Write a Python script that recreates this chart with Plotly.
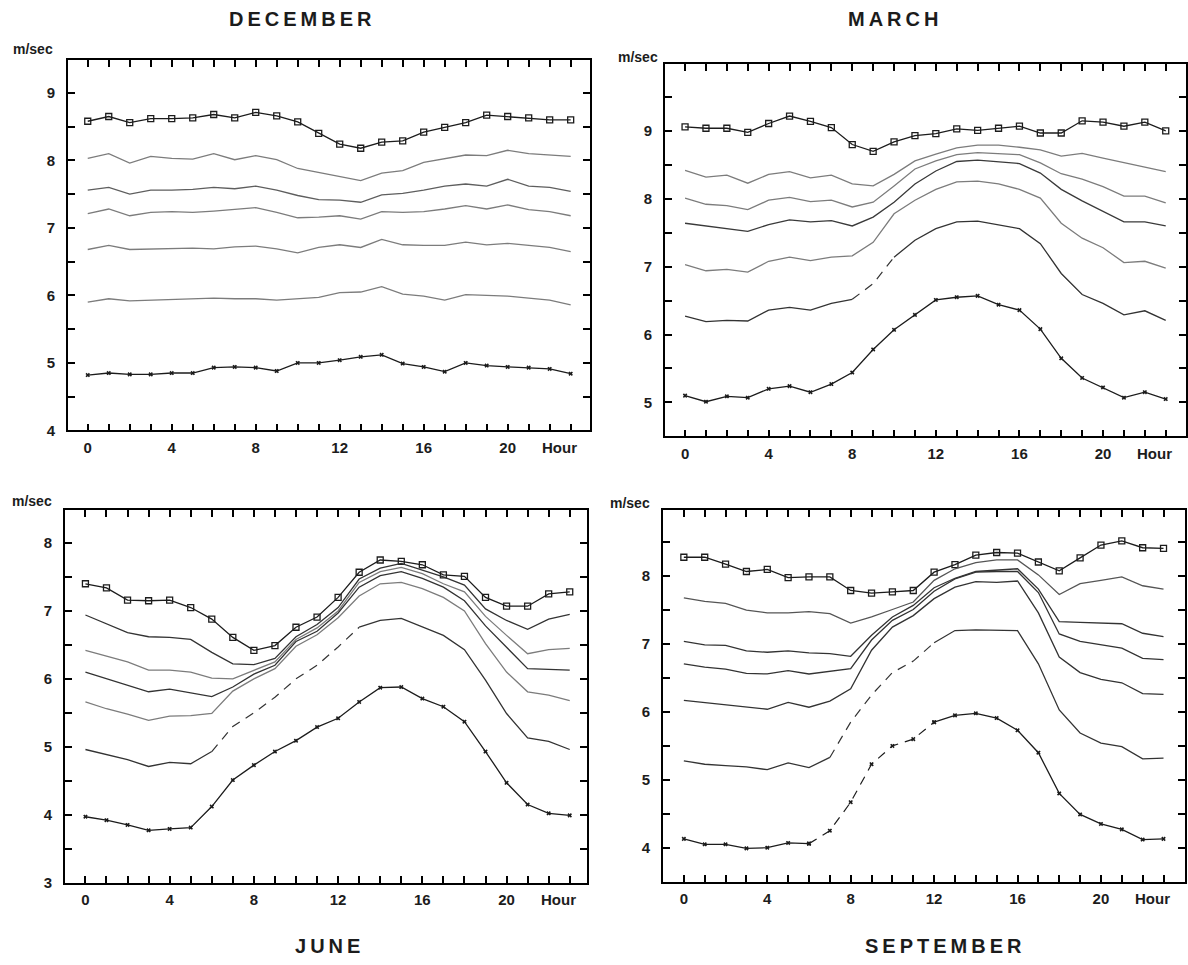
import plotly.graph_objects as go

# Hourly mean wind speed (m/sec) at seven levels, for four months
HOURS = list(range(24))
HOUR_LABELS = [0, 4, 8, 12, 16, 20]

DEC_TOP = [8.58, 8.65, 8.56, 8.62, 8.62, 8.63, 8.68, 8.63, 8.71, 8.66, 8.57, 8.40,
           8.24, 8.18, 8.27, 8.29, 8.42, 8.49, 8.56, 8.67, 8.65, 8.63, 8.60, 8.60]
DEC_L1 = [8.03, 8.10, 7.96, 8.06, 8.03, 8.02, 8.10, 8.01, 8.07, 8.01, 7.88, 7.82,
          7.77, 7.70, 7.81, 7.85, 7.97, 8.03, 8.08, 8.07, 8.15, 8.10, 8.08, 8.06]
DEC_L2 = [7.56, 7.60, 7.50, 7.56, 7.56, 7.57, 7.60, 7.58, 7.62, 7.56, 7.48, 7.42,
          7.41, 7.38, 7.49, 7.51, 7.56, 7.62, 7.65, 7.62, 7.72, 7.62, 7.60, 7.54]
DEC_L3 = [7.21, 7.28, 7.18, 7.23, 7.24, 7.23, 7.25, 7.28, 7.30, 7.23, 7.15, 7.16,
          7.18, 7.13, 7.24, 7.23, 7.24, 7.28, 7.33, 7.28, 7.34, 7.27, 7.24, 7.18]
DEC_L4 = [6.68, 6.74, 6.68, 6.69, 6.69, 6.70, 6.69, 6.72, 6.73, 6.69, 6.63, 6.71,
          6.75, 6.71, 6.83, 6.75, 6.74, 6.74, 6.79, 6.75, 6.77, 6.74, 6.71, 6.65]
DEC_L5 = [5.90, 5.95, 5.92, 5.93, 5.93, 5.95, 5.96, 5.95, 5.95, 5.93, 5.95, 5.97,
          6.04, 6.05, 6.13, 6.02, 5.99, 5.93, 6.01, 6.00, 5.99, 5.96, 5.93, 5.86]
DEC_BOT = [4.82, 4.85, 4.83, 4.83, 4.85, 4.85, 4.93, 4.94, 4.93, 4.88, 5.00, 5.00,
           5.04, 5.09, 5.12, 4.99, 4.94, 4.87, 5.00, 4.96, 4.94, 4.93, 4.91, 4.84]

MAR_TOP = [9.06, 9.04, 9.04, 8.98, 9.11, 9.22, 9.14, 9.05, 8.80, 8.70, 8.84, 8.93,
           8.96, 9.03, 9.01, 9.04, 9.07, 8.97, 8.97, 9.15, 9.13, 9.07, 9.13, 9.00]
MAR_L1 = [8.42, 8.32, 8.35, 8.23, 8.36, 8.40, 8.31, 8.35, 8.22, 8.19, 8.36, 8.56,
          8.66, 8.75, 8.79, 8.79, 8.76, 8.72, 8.63, 8.67, 8.60, 8.53, 8.46, 8.40]
MAR_L2 = [8.01, 7.92, 7.90, 7.84, 7.98, 8.02, 7.96, 7.98, 7.88, 7.95, 8.19, 8.44,
          8.56, 8.65, 8.68, 8.67, 8.65, 8.53, 8.37, 8.29, 8.18, 8.04, 8.04, 7.94]
MAR_L3 = [7.64, 7.60, 7.56, 7.52, 7.62, 7.69, 7.66, 7.68, 7.60, 7.73, 7.95, 8.22,
          8.41, 8.55, 8.57, 8.54, 8.52, 8.38, 8.14, 7.97, 7.81, 7.66, 7.66, 7.60]
MAR_L4 = [7.03, 6.94, 6.96, 6.92, 7.08, 7.14, 7.09, 7.14, 7.16, 7.36, 7.78, 7.98,
          8.14, 8.25, 8.26, 8.22, 8.14, 8.01, 7.64, 7.42, 7.28, 7.06, 7.08, 6.98]
MAR_L5 = [6.27, 6.19, 6.21, 6.20, 6.36, 6.40, 6.36, 6.46, 6.52, 6.75, 7.14, 7.39,
          7.56, 7.66, 7.67, 7.61, 7.56, 7.34, 6.90, 6.59, 6.46, 6.29, 6.35, 6.21]
MAR_BOT = [5.10, 5.01, 5.09, 5.07, 5.20, 5.24, 5.15, 5.27, 5.44, 5.78, 6.07, 6.29,
           6.51, 6.55, 6.57, 6.44, 6.36, 6.08, 5.65, 5.36, 5.22, 5.07, 5.15, 5.05]

JUN_TOP = [7.40, 7.34, 7.16, 7.15, 7.16, 7.05, 6.88, 6.61, 6.42, 6.49, 6.76, 6.91,
           7.20, 7.57, 7.75, 7.73, 7.68, 7.53, 7.51, 7.20, 7.07, 7.07, 7.25, 7.28]
JUN_L1 = [6.94, 6.81, 6.68, 6.62, 6.61, 6.58, 6.39, 6.22, 6.21, 6.30, 6.62, 6.80,
          7.05, 7.47, 7.63, 7.70, 7.60, 7.50, 7.38, 7.03, 6.86, 6.73, 6.88, 6.95]
JUN_L2 = [6.42, 6.34, 6.25, 6.13, 6.13, 6.10, 6.01, 6.00, 6.13, 6.25, 6.58, 6.75,
          7.00, 7.42, 7.58, 7.64, 7.55, 7.40, 7.28, 6.92, 6.64, 6.37, 6.43, 6.45]
JUN_L3 = [6.10, 6.00, 5.90, 5.81, 5.85, 5.80, 5.74, 5.88, 6.07, 6.20, 6.55, 6.70,
          6.97, 7.35, 7.52, 7.58, 7.48, 7.35, 7.15, 6.78, 6.47, 6.15, 6.14, 6.13]
JUN_L4 = [5.66, 5.56, 5.48, 5.39, 5.45, 5.46, 5.49, 5.82, 6.00, 6.15, 6.48, 6.65,
          6.90, 7.22, 7.40, 7.42, 7.33, 7.20, 7.00, 6.52, 6.10, 5.81, 5.76, 5.68]
JUN_L5 = [4.96, 4.88, 4.81, 4.71, 4.77, 4.75, 4.93, 5.30, 5.50, 5.73, 6.00, 6.20,
          6.47, 6.76, 6.86, 6.89, 6.77, 6.64, 6.43, 5.98, 5.49, 5.13, 5.08, 4.96]
JUN_BOT = [3.97, 3.92, 3.85, 3.77, 3.79, 3.81, 4.12, 4.51, 4.73, 4.93, 5.09, 5.29,
           5.42, 5.66, 5.87, 5.88, 5.71, 5.59, 5.37, 4.93, 4.47, 4.15, 4.02, 3.99]

SEP_TOP = [8.28, 8.28, 8.18, 8.07, 8.10, 7.98, 7.99, 7.99, 7.79, 7.75, 7.77, 7.79,
           8.06, 8.17, 8.31, 8.35, 8.34, 8.21, 8.08, 8.27, 8.46, 8.52, 8.42, 8.41]
SEP_L1 = [7.68, 7.63, 7.60, 7.50, 7.46, 7.46, 7.48, 7.45, 7.31, 7.40, 7.51, 7.62,
          7.94, 8.11, 8.20, 8.24, 8.24, 8.02, 7.73, 7.89, 7.94, 7.99, 7.86, 7.81]
SEP_L2 = [7.04, 6.99, 6.98, 6.90, 6.88, 6.90, 6.87, 6.86, 6.82, 7.13, 7.40, 7.57,
          7.83, 7.97, 8.07, 8.09, 8.11, 7.81, 7.33, 7.32, 7.31, 7.30, 7.16, 7.11]
SEP_L3 = [6.71, 6.66, 6.63, 6.57, 6.56, 6.61, 6.56, 6.60, 6.64, 7.06, 7.35, 7.51,
          7.78, 7.96, 8.06, 8.07, 8.07, 7.76, 7.15, 7.04, 6.99, 6.94, 6.79, 6.77]
SEP_L4 = [6.17, 6.14, 6.11, 6.07, 6.04, 6.14, 6.07, 6.16, 6.34, 6.91, 7.25, 7.42,
          7.67, 7.84, 7.92, 7.91, 7.93, 7.46, 6.81, 6.58, 6.48, 6.43, 6.27, 6.26]
SEP_L5 = [5.28, 5.23, 5.21, 5.19, 5.15, 5.25, 5.18, 5.33, 5.85, 6.25, 6.58, 6.75,
          7.02, 7.20, 7.21, 7.20, 7.20, 6.71, 6.03, 5.69, 5.54, 5.49, 5.31, 5.32]
SEP_BOT = [4.13, 4.05, 4.05, 3.99, 4.00, 4.07, 4.06, 4.25, 4.67, 5.23, 5.50, 5.60,
           5.85, 5.95, 5.98, 5.91, 5.73, 5.40, 4.80, 4.49, 4.35, 4.27, 4.12, 4.13]

W, H = 1188, 965
INK = "#1c1c1c"
GREY = "#7c7c7c"
FONT = "Liberation Sans"


def fx(p):
    return p / W


def fy(p):
    return 1 - p / H


# Panel geometry (pixel boxes), axis ranges and line shades
PANELS = [
    dict(title="DECEMBER", title_at=(300, 19), unit_at=(33, 49),
         series=[DEC_TOP, DEC_L1, DEC_L2, DEC_L3, DEC_L4, DEC_L5, DEC_BOT],
         box=(68, 61, 590, 434), xr=(-0.94, 23.92), yr=(4.0, 9.48),
         ylab=(4, 9),
         shades=[GREY, "#5e5e5e", GREY, GREY, GREY], faded={}),
    dict(title="MARCH", title_at=(893, 19), unit_at=(638, 57),
         series=[MAR_TOP, MAR_L1, MAR_L2, MAR_L3, MAR_L4, MAR_L5, MAR_BOT],
         box=(665, 65, 1186, 440), xr=(-0.96, 23.97), yr=(4.5, 9.98),
         ylab=(5, 9),
         shades=[GREY, GREY, "#3a3a3a", GREY, "#333333"], faded={5: (8, 10)}),
    dict(title="JUNE", title_at=(327, 954), unit_at=(32, 505),
         series=[JUN_TOP, JUN_L1, JUN_L2, JUN_L3, JUN_L4, JUN_L5, JUN_BOT],
         box=(65, 514, 587, 890), xr=(-0.97, 23.82), yr=(3.0, 8.49),
         ylab=(3, 8),
         shades=["#333333", GREY, "#333333", GREY, "#333333"], faded={5: (6, 13)}),
    dict(title="SEPTEMBER", title_at=(943, 954), unit_at=(630, 507),
         series=[SEP_TOP, SEP_L1, SEP_L2, SEP_L3, SEP_L4, SEP_L5, SEP_BOT],
         box=(663, 514, 1185, 889), xr=(-1.0, 24.03), yr=(3.5, 8.98),
         ylab=(4, 8),
         shades=["#555555", "#333333", "#333333", "#333333", "#333333"],
         faded={5: (7, 12), 6: (6, 12)}),
]

fig = go.Figure()
annotations = []
layout_axes = {}

tick_font = dict(family=FONT, size=15, color=INK, weight="bold")

for i, p in enumerate(PANELS):
    n = "" if i == 0 else str(i + 1)
    xa, ya = "x" + n, "y" + n
    x0, y0, x1, y1 = p["box"]

    for k, vals in enumerate(p["series"]):
        if k == 0:
            style = dict(mode="lines+markers", line=dict(color=INK, width=1.3),
                         marker=dict(symbol="square-open", size=6, color=INK,
                                     line=dict(width=1.3, color=INK)))
        elif k == 6:
            style = dict(mode="lines+markers", line=dict(color=INK, width=1.3),
                         marker=dict(symbol="x", size=4, color=INK))
        else:
            style = dict(mode="lines", line=dict(color=p["shades"][k - 1], width=1.3))

        if k in p["faded"]:
            a, b = p["faded"][k]
            solid = [v if (h <= a or h >= b) else None for h, v in zip(HOURS, vals)]
            faint = [v if a <= h <= b else None for h, v in zip(HOURS, vals)]
            fig.add_trace(go.Scatter(x=HOURS, y=solid, xaxis=xa, yaxis=ya,
                                     showlegend=False, hoverinfo="skip", **style))
            dstyle = dict(style)
            dstyle["line"] = dict(color=style["line"]["color"], width=1.2,
                                  dash="9px,7px")
            fig.add_trace(go.Scatter(x=HOURS, y=faint, xaxis=xa, yaxis=ya,
                                     showlegend=False, hoverinfo="skip", **dstyle))
        else:
            fig.add_trace(go.Scatter(x=HOURS, y=vals, xaxis=xa, yaxis=ya,
                                     showlegend=False, hoverinfo="skip", **style))

    # a tick at every hour, labels every four hours
    xtext = [str(h) if h in HOUR_LABELS else "" for h in HOURS]
    # a tick every half unit, labels on whole units
    lo, hi = p["ylab"]
    yvals = [lo - 0.5 + 0.5 * j for j in range(2 * (hi - lo) + 3)]
    yvals = [v for v in yvals if p["yr"][0] - 1e-6 <= v <= p["yr"][1]]
    ytext = [str(int(v)) if float(v).is_integer() else "" for v in yvals]

    common = dict(showline=True, linecolor="black", linewidth=1.6, mirror="allticks",
                  ticks="inside", ticklen=7, tickwidth=1.6, tickcolor="black",
                  tickmode="array", showgrid=False, zeroline=False,
                  tickfont=tick_font)
    layout_axes["xaxis" + n] = dict(domain=[fx(x0), fx(x1)], range=list(p["xr"]),
                                    anchor=ya, tickvals=HOURS, ticktext=xtext,
                                    ticklabelstandoff=3, **common)
    layout_axes["yaxis" + n] = dict(domain=[fy(y1), fy(y0)], range=list(p["yr"]),
                                    anchor=xa, tickvals=yvals, ticktext=ytext,
                                    ticklabelstandoff=8, **common)

    # "Hour" caption beside the last hour label
    annotations.append(dict(x=22.45, xref=xa, y=fy(y1 + 17), yref="paper",
                            text="Hour", showarrow=False, xanchor="center",
                            yanchor="middle", font=tick_font))
    # unit label above the value axis
    ux, uy = p["unit_at"]
    annotations.append(dict(x=fx(ux), y=fy(uy), xref="paper", yref="paper",
                            text="m/sec", showarrow=False, xanchor="center",
                            yanchor="middle",
                            font=dict(family=FONT, size=14, color=INK, weight="bold")))
    # month title
    tx, ty = p["title_at"]
    annotations.append(dict(x=fx(tx), y=fy(ty), xref="paper", yref="paper",
                            text="\u2009".join(p["title"]), showarrow=False,
                            xanchor="center", yanchor="middle",
                            font=dict(family=FONT, size=20, color=INK, weight="bold")))

fig.update_layout(width=W, height=H, margin=dict(l=0, r=0, t=0, b=0),
                  paper_bgcolor="white", plot_bgcolor="white",
                  annotations=annotations, showlegend=False, **layout_axes)

fig.write_html("out.html")
